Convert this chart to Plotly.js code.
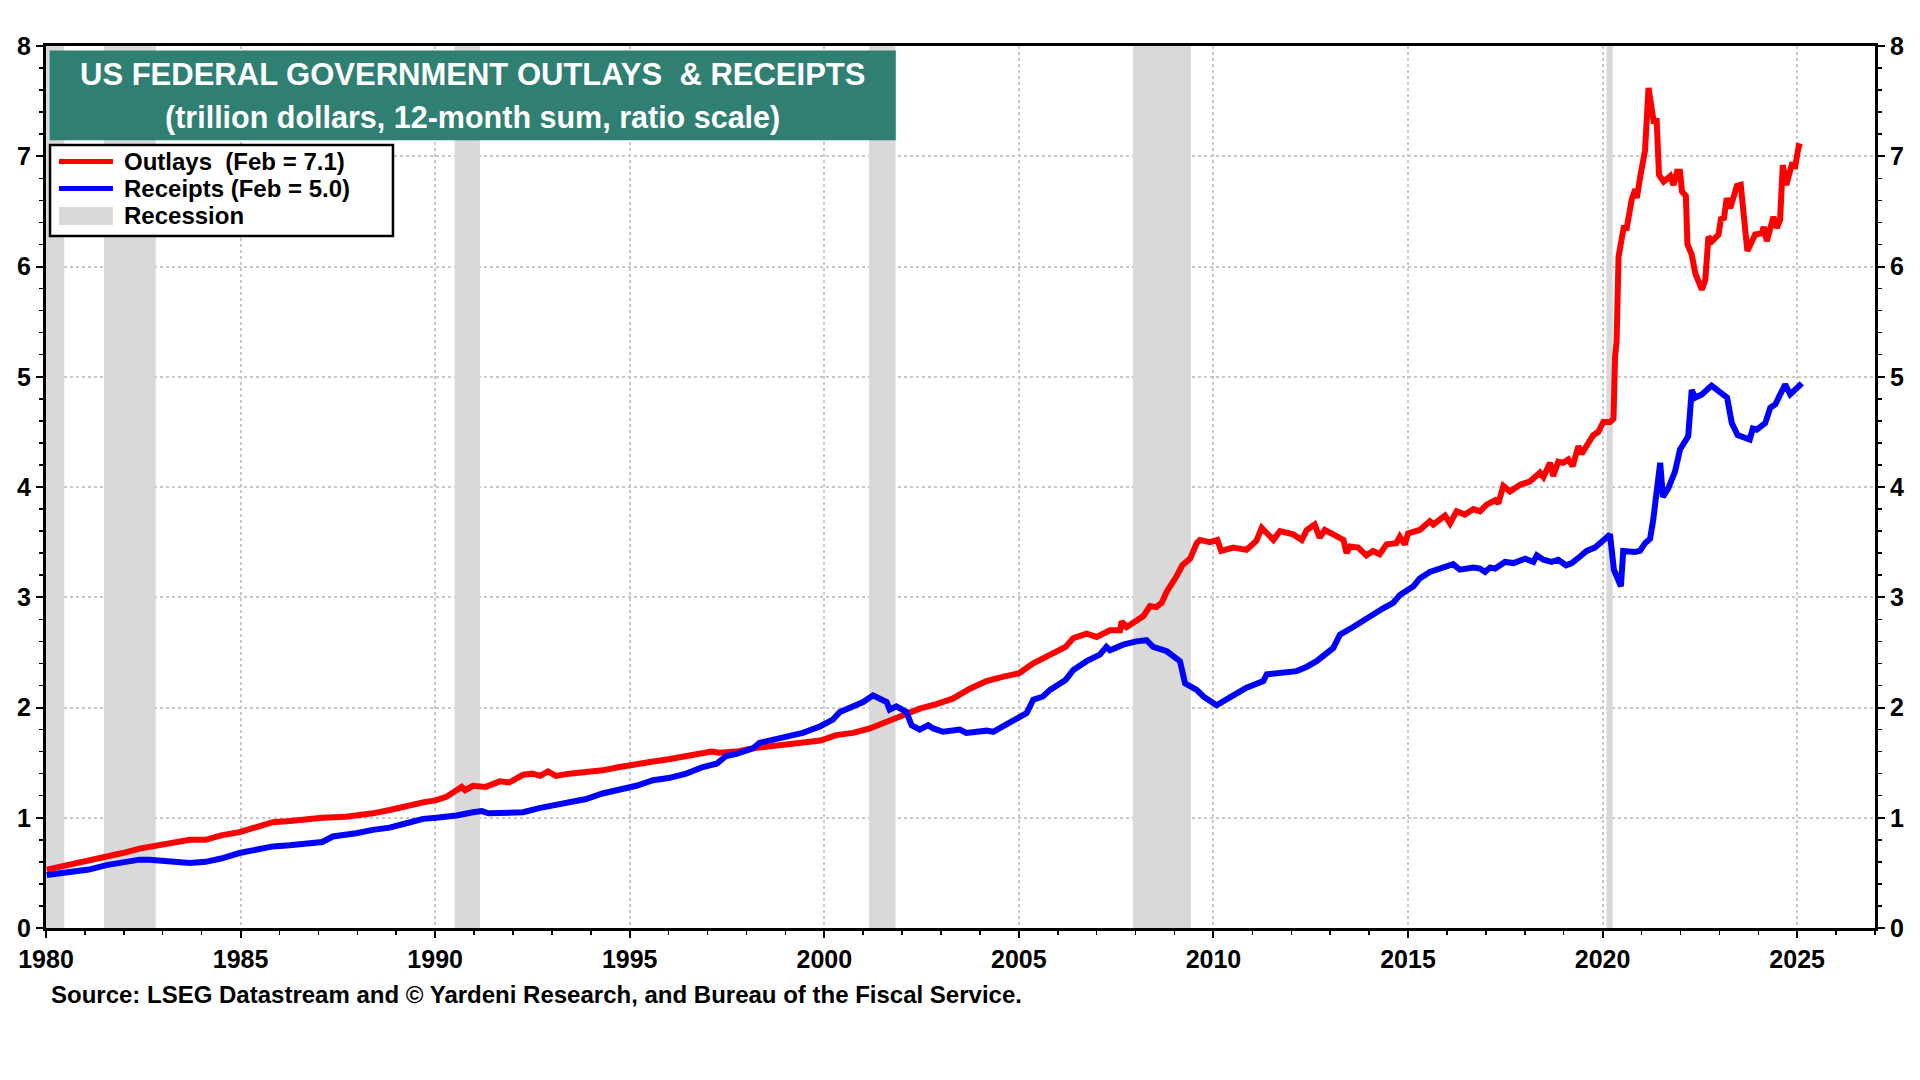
<!DOCTYPE html>
<html>
<head>
<meta charset="utf-8">
<script src="https://cdn.plot.ly/plotly-3.0.1.min.js"></script>
<style>
  html, body { margin: 0; padding: 0; background: #fff; }
  #chart { width: 1920px; height: 1080px; }
</style>
</head>
<body>
<div id="chart"></div>
<script>
// values, trillion dollars, 12-month sum
var outlayYears = [
  1980.02, 1980.7, 1981.55, 1981.97, 1982.4, 1982.9, 1983.26, 1983.69, 1984.1, 1984.5,
  1984.97, 1985.4, 1985.83, 1986.26, 1986.69, 1987.1, 1987.7, 1987.97, 1988.4, 1988.83,
  1989.26, 1989.69, 1990.03, 1990.29, 1990.55, 1990.68, 1990.77, 1990.97, 1991.3, 1991.66,
  1991.9, 1992.26, 1992.5, 1992.7, 1992.9, 1993.1, 1993.45, 1993.88, 1994.3, 1994.74,
  1995.17, 1995.6, 1996.0, 1996.45, 1996.88, 1997.1, 1997.3, 1997.74, 1998.17, 1998.6,
  1999.0, 1999.45, 1999.9, 2000.3, 2000.74, 2001.17, 2001.6, 2002.0, 2002.45, 2002.88,
  2003.3, 2003.74, 2004.17, 2004.6, 2005.0, 2005.37, 2005.8, 2006.2, 2006.4, 2006.74,
  2007.0, 2007.34, 2007.6, 2007.64, 2007.77, 2008.02, 2008.2, 2008.37, 2008.53, 2008.67,
  2008.8, 2009.05, 2009.2, 2009.4, 2009.57, 2009.65, 2009.91, 2010.1, 2010.2, 2010.51,
  2010.85, 2011.1, 2011.24, 2011.54, 2011.71, 2012.05, 2012.27, 2012.4, 2012.6, 2012.73,
  2012.86, 2013.08, 2013.34, 2013.42, 2013.51, 2013.72, 2013.93, 2014.1, 2014.27, 2014.45,
  2014.7, 2014.79, 2014.92, 2015.0, 2015.3, 2015.56, 2015.65, 2015.95, 2016.08, 2016.25,
  2016.46, 2016.68, 2016.85, 2017.02, 2017.24, 2017.32, 2017.45, 2017.62, 2017.88, 2018.13,
  2018.39, 2018.48, 2018.65, 2018.73, 2018.86, 2018.99, 2019.12, 2019.23, 2019.38, 2019.46,
  2019.59, 2019.76, 2019.89, 2020.02, 2020.19, 2020.28, 2020.32, 2020.36, 2020.41, 2020.54,
  2020.62, 2020.75, 2020.84, 2020.88, 2020.97, 2021.09, 2021.18, 2021.31, 2021.39, 2021.45,
  2021.57, 2021.74, 2021.82, 2021.91, 2021.99, 2022.04, 2022.14, 2022.18, 2022.29, 2022.38,
  2022.55, 2022.64, 2022.72, 2022.81, 2022.98, 2023.04, 2023.12, 2023.19, 2023.28, 2023.45,
  2023.55, 2023.62, 2023.72, 2023.92, 2024.09, 2024.14, 2024.22, 2024.39, 2024.48, 2024.56,
  2024.63, 2024.72, 2024.86, 2024.95, 2025.04, 2025.12
];
var outlayValues = [
  0.53, 0.58, 0.65, 0.68, 0.72, 0.75, 0.78, 0.80, 0.80, 0.84,
  0.87, 0.92, 0.96, 0.97, 0.99, 1.00, 1.01, 1.02, 1.04, 1.07,
  1.11, 1.14, 1.16, 1.19, 1.25, 1.28, 1.25, 1.29, 1.28, 1.33,
  1.32, 1.39, 1.40, 1.38, 1.42, 1.38, 1.40, 1.41, 1.43, 1.46,
  1.49, 1.51, 1.53, 1.56, 1.59, 1.60, 1.59, 1.60, 1.63, 1.65,
  1.67, 1.69, 1.70, 1.75, 1.77, 1.81, 1.87, 1.93, 1.99, 2.03,
  2.08, 2.17, 2.24, 2.28, 2.31, 2.40, 2.48, 2.55, 2.63, 2.67,
  2.64, 2.70, 2.70, 2.78, 2.73, 2.78, 2.83, 2.92, 2.91, 2.95,
  3.05, 3.19, 3.29, 3.35, 3.49, 3.52, 3.50, 3.52, 3.42, 3.45,
  3.43, 3.51, 3.63, 3.52, 3.60, 3.57, 3.52, 3.61, 3.66, 3.54,
  3.61, 3.57, 3.52, 3.40, 3.46, 3.45, 3.38, 3.42, 3.39, 3.48,
  3.49, 3.55, 3.48, 3.58, 3.61, 3.69, 3.66, 3.74, 3.67, 3.78,
  3.75, 3.80, 3.78, 3.84, 3.88, 3.85, 4.01, 3.96, 4.02, 4.05,
  4.13, 4.09, 4.22, 4.10, 4.23, 4.22, 4.25, 4.19, 4.37, 4.30,
  4.38, 4.47, 4.50, 4.59, 4.59, 4.62, 5.18, 5.32, 6.09, 6.35,
  6.35, 6.61, 6.70, 6.62, 6.82, 7.05, 7.62, 7.32, 7.32, 6.83,
  6.77, 6.82, 6.74, 6.86, 6.86, 6.68, 6.64, 6.20, 6.11, 5.94,
  5.79, 5.88, 6.27, 6.23, 6.29, 6.43, 6.44, 6.62, 6.53, 6.73,
  6.74, 6.42, 6.14, 6.29, 6.30, 6.36, 6.23, 6.45, 6.35, 6.42,
  6.92, 6.74, 6.92, 6.91, 7.09, 7.08
];

var receiptYears = [
  1980.02, 1980.7, 1981.1, 1981.55, 1981.97, 1982.4, 1982.65, 1983.26, 1983.69, 1984.1,
  1984.5, 1984.97, 1985.4, 1985.83, 1986.26, 1986.69, 1987.1, 1987.37, 1987.7, 1987.97,
  1988.4, 1988.83, 1989.26, 1989.69, 1990.03, 1990.55, 1990.97, 1991.2, 1991.37, 1991.83,
  1992.26, 1992.7, 1993.0, 1993.45, 1993.88, 1994.3, 1994.74, 1995.17, 1995.6, 1996.0,
  1996.45, 1996.88, 1997.23, 1997.48, 1997.74, 1998.17, 1998.34, 1998.6, 1999.0, 1999.45,
  1999.9, 2000.22, 2000.4, 2000.74, 2001.0, 2001.25, 2001.43, 2001.6, 2001.68, 2001.85,
  2002.11, 2002.24, 2002.45, 2002.67, 2002.8, 2003.05, 2003.48, 2003.65, 2004.17, 2004.34,
  2004.6, 2004.77, 2004.94, 2005.2, 2005.37, 2005.62, 2005.8, 2006.2, 2006.4, 2006.74,
  2007.08, 2007.25, 2007.34, 2007.68, 2008.02, 2008.28, 2008.45, 2008.8, 2009.14, 2009.27,
  2009.57, 2009.74, 2010.08, 2010.25, 2010.51, 2010.85, 2011.28, 2011.37, 2011.8, 2012.14,
  2012.4, 2012.65, 2013.08, 2013.25, 2013.59, 2013.93, 2014.36, 2014.62, 2014.79, 2015.14,
  2015.3, 2015.56, 2015.99, 2016.16, 2016.33, 2016.68, 2016.85, 2016.98, 2017.11, 2017.24,
  2017.49, 2017.71, 2018.01, 2018.22, 2018.31, 2018.48, 2018.69, 2018.86, 2019.06, 2019.21,
  2019.42, 2019.59, 2019.8, 2019.98, 2020.19, 2020.29, 2020.47, 2020.53, 2020.83, 2020.96,
  2021.09, 2021.22, 2021.3, 2021.48, 2021.55, 2021.69, 2021.86, 2021.99, 2022.2, 2022.29,
  2022.38, 2022.55, 2022.8, 2023.2, 2023.32, 2023.47, 2023.71, 2023.78, 2023.86, 2023.96,
  2024.18, 2024.31, 2024.44, 2024.56, 2024.69, 2024.82, 2025.12
];
var receiptValues = [
  0.48, 0.51, 0.53, 0.57, 0.60, 0.62, 0.62, 0.60, 0.59, 0.60,
  0.63, 0.68, 0.71, 0.74, 0.75, 0.76, 0.78, 0.83, 0.84, 0.86,
  0.89, 0.91, 0.95, 0.99, 1.00, 1.02, 1.05, 1.06, 1.04, 1.05,
  1.05, 1.09, 1.11, 1.13, 1.17, 1.22, 1.25, 1.29, 1.34, 1.36,
  1.40, 1.46, 1.49, 1.56, 1.58, 1.63, 1.68, 1.70, 1.74, 1.77,
  1.83, 1.89, 1.96, 2.01, 2.05, 2.11, 2.08, 2.05, 1.98, 2.01,
  1.96, 1.84, 1.80, 1.84, 1.81, 1.78, 1.80, 1.77, 1.79, 1.78,
  1.83, 1.86, 1.90, 1.95, 2.07, 2.10, 2.16, 2.25, 2.34, 2.42,
  2.48, 2.55, 2.52, 2.57, 2.60, 2.61, 2.55, 2.51, 2.42, 2.22,
  2.16, 2.10, 2.02, 2.05, 2.11, 2.18, 2.24, 2.30, 2.31, 2.33,
  2.37, 2.42, 2.54, 2.66, 2.73, 2.81, 2.90, 2.95, 3.02, 3.10,
  3.17, 3.23, 3.28, 3.30, 3.25, 3.27, 3.26, 3.23, 3.27, 3.26,
  3.32, 3.31, 3.35, 3.32, 3.38, 3.34, 3.32, 3.34, 3.29, 3.31,
  3.37, 3.42, 3.45, 3.51, 3.57, 3.25, 3.10, 3.42, 3.41, 3.42,
  3.49, 3.53, 3.70, 4.22, 3.91, 3.99, 4.14, 4.34, 4.46, 4.88,
  4.81, 4.84, 4.92, 4.81, 4.58, 4.47, 4.44, 4.43, 4.53, 4.52,
  4.58, 4.72, 4.75, 4.84, 4.93, 4.84, 4.94
];

var recessionStart = [1980.0, 1981.49, 1990.5, 2001.15, 2007.93, 2020.1];
var recessionEnd   = [1980.47, 1982.82, 1991.15, 2001.83, 2009.42, 2020.26];

var yearTicks = [1980, 1985, 1990, 1995, 2000, 2005, 2010, 2015, 2020, 2025];
var valueTicks = [0, 1, 2, 3, 4, 5, 6, 7, 8];
var yMax = 8;

var legendLabels = ['Outlays  (Feb = 7.1)', 'Receipts (Feb = 5.0)', 'Recession'];
var legendColors = ['#FF0000', '#0000FF', '#D9D9D9'];

var FONT = 'Liberation Sans, Arial, sans-serif';
var RED = legendColors[0], BLUE = legendColors[1], GREY = legendColors[2];

// recession bands as one filled trace
var bandX = [], bandY = [];
recessionStart.forEach(function (s, i) {
  var e = recessionEnd[i];
  bandX.push(s, s, e, e, s, null);
  bandY.push(0, yMax, yMax, 0, 0, null);
});

var recession = {
  x: bandX, y: bandY,
  type: 'scatter', mode: 'lines',
  fill: 'toself', fillcolor: GREY,
  line: { width: 0, color: GREY },
  name: legendLabels[2], showlegend: false,
  hoverinfo: 'skip'
};

var outlays = {
  x: outlayYears, y: outlayValues,
  type: 'scatter', mode: 'lines',
  line: { color: RED, width: 6 },
  name: legendLabels[0], showlegend: false
};

var receipts = {
  x: receiptYears, y: receiptValues,
  type: 'scatter', mode: 'lines',
  line: { color: BLUE, width: 6 },
  name: legendLabels[1], showlegend: false
};

// invisible copy so the right hand axis gets drawn
var rightAxis = {
  x: receiptYears, y: receiptValues, yaxis: 'y2',
  type: 'scatter', mode: 'lines',
  line: { width: 0 }, opacity: 0,
  showlegend: false, hoverinfo: 'skip'
};

var tickFont = { family: FONT, size: 25, color: '#000', weight: 'bold' };

var yCommon = {
  range: [0, yMax],
  tickvals: valueTicks,
  ticks: 'outside', ticklen: 7, tickwidth: 2, tickcolor: '#000',
  tickfont: tickFont,
  showline: true, linecolor: '#000', linewidth: 3,
  zeroline: false,
  minor: { dtick: 0.2, ticks: 'outside', ticklen: 4, tickwidth: 1.5, tickcolor: '#000', showgrid: false },
  fixedrange: true
};

// hand-drawn legend box (paper coords) to match the original's tight rows
var legX0 = 0.0022, legX1 = 0.1897, legY0 = 0.7846, legY1 = 0.8878;
var rowY = [0.869, 0.8383, 0.8078];
var swX0 = 0.0071, swX1 = 0.0366, textX = 0.0418;

var shapes = [
  {
    type: 'rect', xref: 'paper', yref: 'paper',
    x0: 0.002, x1: 0.4646, y0: 0.893, y1: 0.995,
    fillcolor: '#2F7F73', line: { width: 0 }, layer: 'above'
  },
  {
    type: 'rect', xref: 'paper', yref: 'paper',
    x0: legX0, x1: legX1, y0: legY0, y1: legY1,
    fillcolor: '#fff', line: { color: '#000', width: 2.5 }, layer: 'above'
  },
  {
    type: 'line', xref: 'paper', yref: 'paper',
    x0: swX0, x1: swX1, y0: rowY[0], y1: rowY[0],
    line: { color: RED, width: 5 }, layer: 'above'
  },
  {
    type: 'line', xref: 'paper', yref: 'paper',
    x0: swX0, x1: swX1, y0: rowY[1], y1: rowY[1],
    line: { color: BLUE, width: 5 }, layer: 'above'
  },
  {
    type: 'rect', xref: 'paper', yref: 'paper',
    x0: swX0, x1: swX1, y0: 0.797, y1: 0.8175,
    fillcolor: GREY, line: { width: 0 }, layer: 'above'
  }
];

var annotations = [
  {
    text: 'US FEDERAL GOVERNMENT OUTLAYS  &amp; RECEIPTS',
    xref: 'paper', yref: 'paper', x: 0.2333, y: 0.9677,
    xanchor: 'center', yanchor: 'middle', showarrow: false,
    font: { family: FONT, size: 31, color: '#fff', weight: 'bold' }
  },
  {
    text: '(trillion dollars, 12-month sum, ratio scale)',
    xref: 'paper', yref: 'paper', x: 0.2333, y: 0.9189,
    xanchor: 'center', yanchor: 'middle', showarrow: false,
    font: { family: FONT, size: 30.5, color: '#fff', weight: 'bold' }
  },
  {
    text: 'Source: LSEG Datastream and © Yardeni Research, and Bureau of the Fiscal Service.',
    xref: 'paper', yref: 'paper', x: 0.0014, y: -0.0749,
    xanchor: 'left', yanchor: 'middle', showarrow: false,
    font: { family: FONT, size: 24, color: '#000', weight: 'bold' }
  }
];

legendLabels.forEach(function (label, i) {
  annotations.push({
    text: label,
    xref: 'paper', yref: 'paper', x: textX, y: rowY[i],
    xanchor: 'left', yanchor: 'middle', showarrow: false,
    font: { family: FONT, size: 24, color: '#000', weight: 'bold' }
  });
});

var layout = {
  width: 1920, height: 1080,
  margin: { l: 46, r: 45, t: 46, b: 152 },
  paper_bgcolor: '#fff', plot_bgcolor: '#fff',
  font: { family: FONT, color: '#000' },
  showlegend: false,
  xaxis: {
    range: [1980, 2027],
    tickvals: yearTicks, tickformat: 'd',
    ticks: 'outside', ticklen: 7, tickwidth: 2, tickcolor: '#000',
    tickfont: tickFont,
    showline: true, linecolor: '#000', linewidth: 3, mirror: true,
    showgrid: true, gridcolor: '#C8C8C8', gridwidth: 2, griddash: 'dot',
    zeroline: false,
    minor: { dtick: 1, ticks: 'outside', ticklen: 4, tickwidth: 1.5, tickcolor: '#000', showgrid: false },
    fixedrange: true
  },
  yaxis: Object.assign({}, yCommon, {
    side: 'left', mirror: true,
    showgrid: true, gridcolor: '#C8C8C8', gridwidth: 2, griddash: 'dot'
  }),
  yaxis2: Object.assign({}, yCommon, {
    side: 'right', overlaying: 'y', showgrid: false
  }),
  shapes: shapes,
  annotations: annotations
};

Plotly.newPlot(document.getElementById('chart'), [recession, outlays, receipts, rightAxis], layout, { staticPlot: true });
</script>
</body>
</html>
